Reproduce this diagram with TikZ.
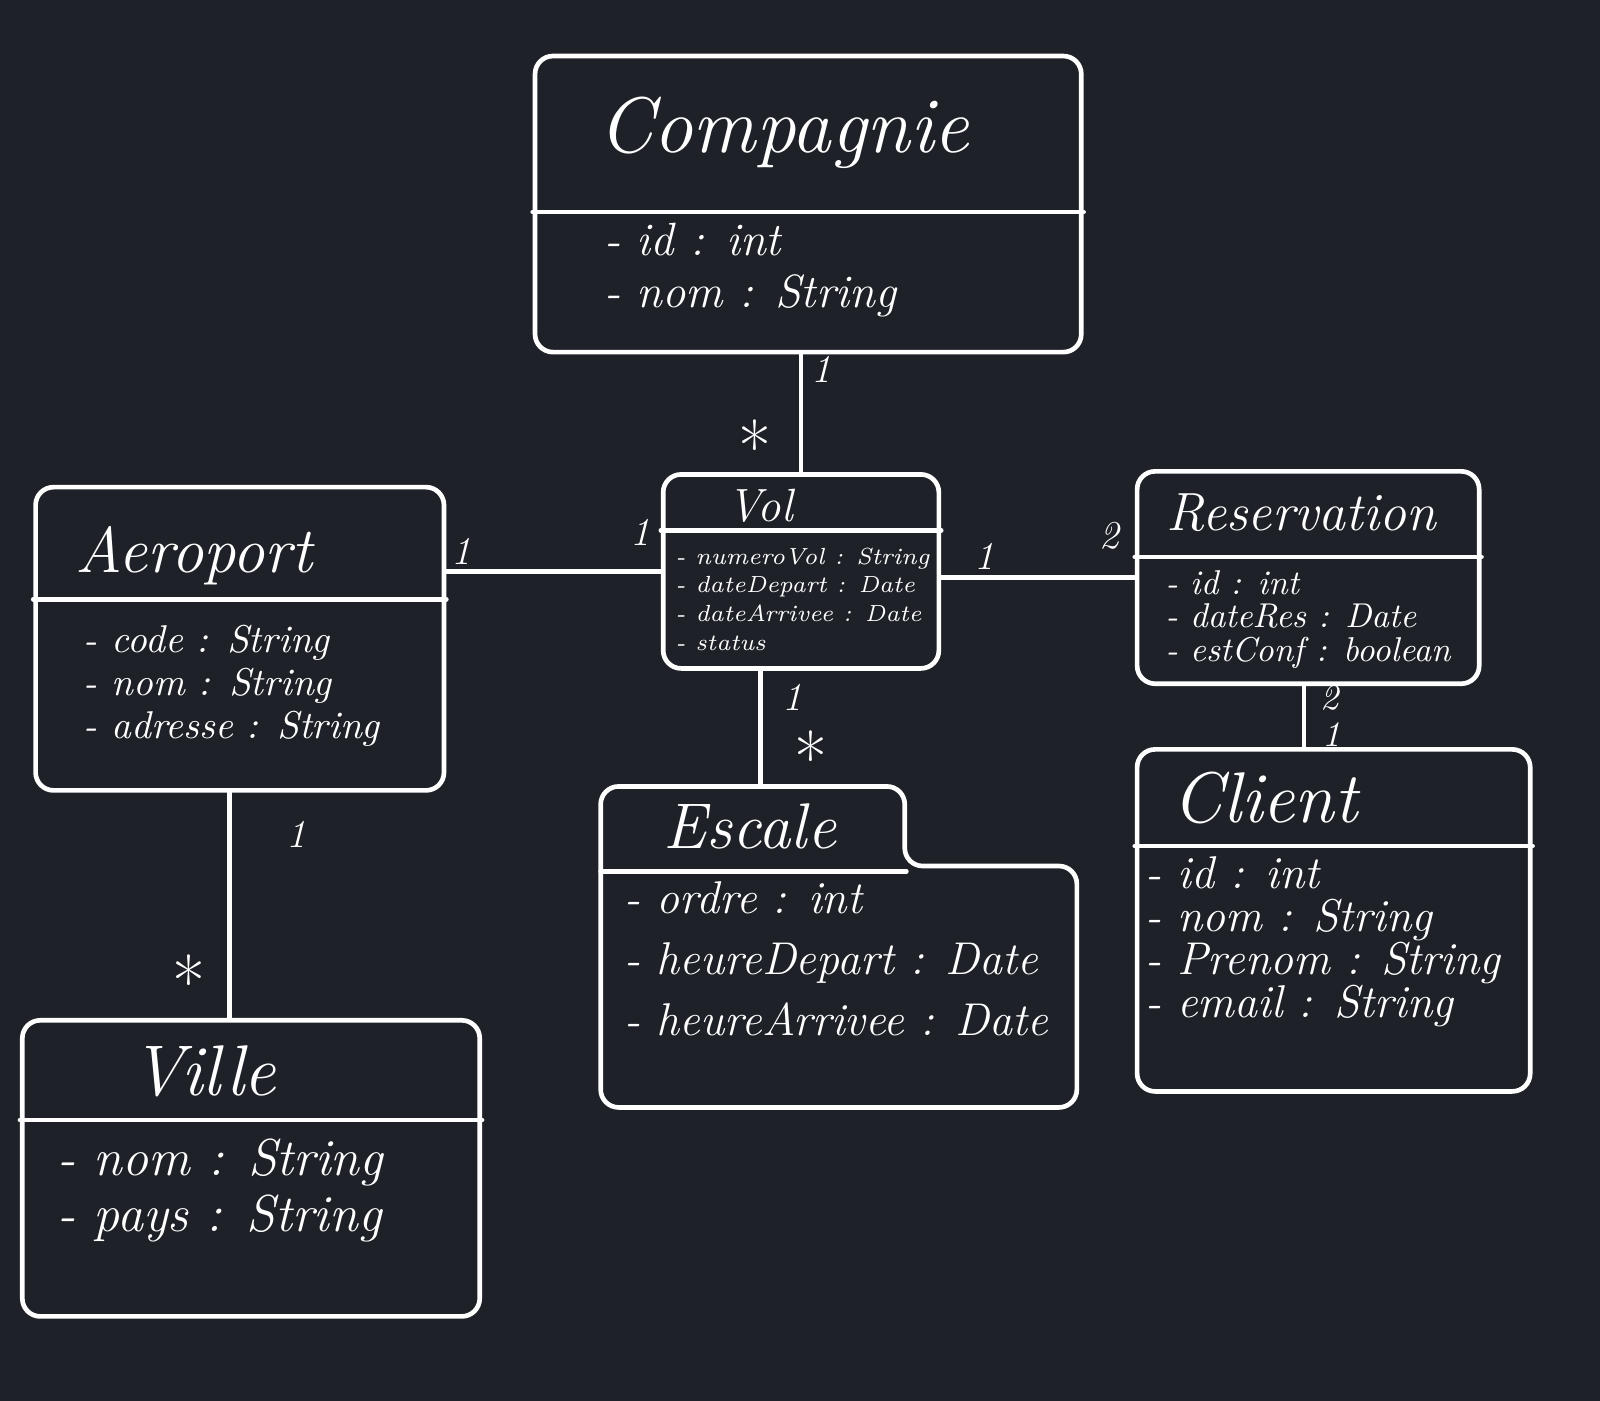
\documentclass[tikz,border=0pt]{standalone}
\usepackage{fontspec}
\definecolor{bg}{HTML}{1E2228}
\begin{document}
\begin{tikzpicture}[
  x=0.01cm, y=-0.01cm,
  line/.style={draw=white, line width=1.3pt, line cap=round, line join=round},
  box/.style={line, rounded corners=5pt, inner sep=0pt},
  ttl/.style={text=white, inner sep=0pt, font=\fontsize{#1}{#1}\selectfont\itshape},
  attr/.style n args={2}{text=white, anchor=west, align=left, inner sep=1pt,
    font=\fontsize{#1}{#2}\selectfont\itshape},
  mult/.style={text=white, inner sep=0pt, font=\fontsize{11}{11}\selectfont\itshape},
  star/.style={text=white, inner sep=0pt, font=\fontsize{20}{20}\selectfont}
]
\fill[bg] (0,0) rectangle (1568,1373);
\useasboundingbox (0,0) rectangle (1568,1373);

% class boxes
\node[box, minimum width=5.35cm, minimum height=2.90cm] (comp) at (792,200) {};
\node[box, minimum width=2.70cm, minimum height=1.90cm] (vol) at (785,560) {};
\node[box, minimum width=3.35cm, minimum height=2.08cm] (res) at (1282,566) {};
\node[box, minimum width=4.00cm, minimum height=2.97cm] (aero) at (235,626) {};
\node[inner sep=0pt, minimum width=4.65cm, minimum height=3.13cm] (esc) at (822,928) {};
\node[box, minimum width=3.85cm, minimum height=3.35cm] (cli) at (1307,902) {};
\node[box, minimum width=4.48cm, minimum height=2.90cm] (ville) at (246,1145) {};

% Escale outline with its step
\draw[line, rounded corners=5pt] (esc.north west) -- ++(298,0) -- ++(0,78) -| (esc.south east) -- (esc.south west) -- cycle;

% compartment dividers
\draw[line] ([yshift=-1.55cm]comp.north west) -- ([yshift=-1.55cm]comp.north east);
\draw[line] ([yshift=-0.57cm]vol.north west) -- ([yshift=-0.57cm]vol.north east);
\draw[line] ([yshift=-0.86cm]res.north west) -- ([yshift=-0.86cm]res.north east);
\draw[line] ([yshift=-1.12cm]aero.north west) -- ([yshift=-1.12cm]aero.north east);
\draw[line] ([yshift=-0.83cm]esc.north west) -- ([yshift=-0.83cm, xshift=-1.67cm]esc.north east);
\draw[line] ([yshift=-0.97cm]cli.north west) -- ([yshift=-0.97cm]cli.north east);
\draw[line] ([yshift=-1.00cm]ville.north west) -- ([yshift=-1.00cm]ville.north east);

% titles
\node[ttl=22] (compT) at (768,130) {Compagnie};
\node[ttl=13] (volT) at (745,496) {Vol};
\node[ttl=15] (resT) at (1275,502) {Reservation};
\node[ttl=18] (aeroT) at (190,545) {Aeroport};
\node[ttl=18] (escT) at (735,810) {Escale};
\node[ttl=20] (cliT) at (1240,782) {Client};
\node[ttl=20] (villeT) at (200,1050) {Ville};

% attributes
\node[attr={13}{14.5}] (compA) at (588,265) {- id : int\\- nom : String};
\node[attr={6.5}{8}] (volA) at (658,587) {- numeroVol : String\\- dateDepart : Date\\- dateArrivee : Date\\- status};
\node[attr={9.6}{9.3}] (resA) at (1138,607) {- id : int\\- dateRes : Date\\- estConf : boolean};
\node[attr={10.8}{12}] (aeroA) at (78,672) {- code : String\\- nom : String\\- adresse : String};
\node[attr={12.8}{17}] (escA) at (608,940) {- ordre : int\\- heureDepart : Date\\- heureArrivee : Date};
\node[attr={12.8}{12}] (cliA) at (1118,923) {- id : int\\- nom : String\\- Prenom : String\\- email : String};
\node[attr={14.5}{15.7}] (villeA) at (52,1167) {- nom : String\\- pays : String};

% associations
\draw[line] (vol.north |- comp.south) -- (vol.north);
\draw[line] (aero.east |- vol.west) -- (vol.west);
\draw[line] (vol.east |- res.west) -- (res.west);
\draw[line] ([xshift=-0.40cm]vol.south) coordinate (ve) -- (ve |- esc.north);
\draw[line] ([xshift=-0.04cm]res.south) coordinate (rc) -- (rc |- cli.north);
\draw[line] ([xshift=-0.10cm]aero.south) coordinate (av) -- (av |- ville.north);

% multiplicities
\node[mult] (m1) at (805,362) {1};
\node[star] (m2) at (740,438) {*};
\node[mult] (m3) at (452,540) {1};
\node[mult] (m4) at (628,522) {1};
\node[mult] (m5) at (965,545) {1};
\node[mult] (m6) at (1087,525) {2};
\node[mult] (m7) at (777,683) {1};
\node[star] (m8) at (795,742) {*};
\node[mult, font=\fontsize{10}{10}\selectfont\itshape] (m9) at (1303,684) {2};
\node[mult, font=\fontsize{10}{10}\selectfont\itshape] (m10) at (1305,720) {1};
\node[mult] (m11) at (290,818) {1};
\node[star] (m12) at (185,962) {*};
\end{tikzpicture}
\end{document}
